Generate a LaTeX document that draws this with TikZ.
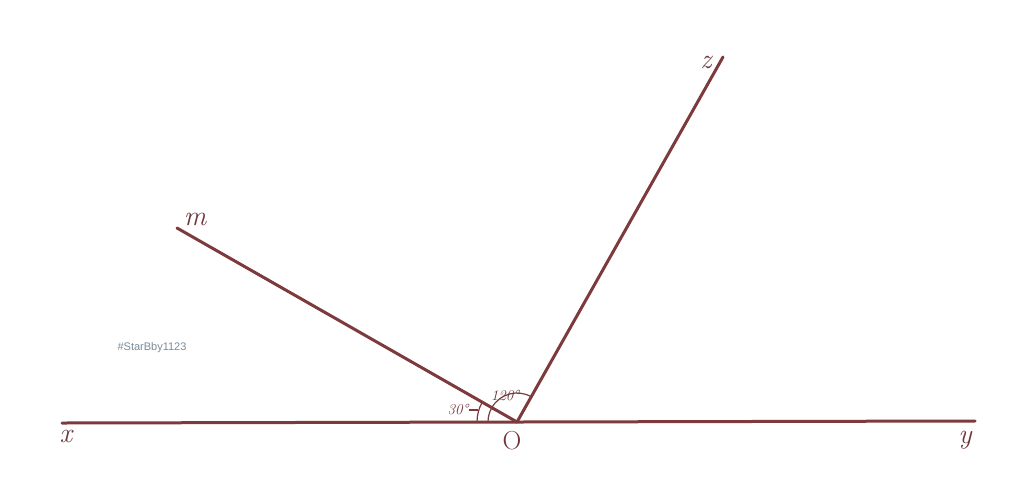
\documentclass[tikz,border=0pt]{standalone}
\usepackage{fontspec}
\setsansfont{Liberation Sans}
\begin{document}
\begin{tikzpicture}[x=1pt,y=-1pt,
  ray/.style={draw=linec,line width=3pt,line cap=round},
  arcl/.style={draw=linec,line width=1.2pt},
  lbl/.style={text=labc,font=\fontsize{28}{28}\selectfont\itshape,inner sep=0pt},
  ang/.style={text=labc,font=\fontsize{15}{15}\selectfont\itshape,inner sep=0pt}]
\definecolor{linec}{RGB}{125,58,60}
\definecolor{labc}{RGB}{110,55,60}
\definecolor{wm}{RGB}{120,140,155}
\useasboundingbox (0,0) rectangle (1024,499);
\coordinate (O) at (517,422);
\coordinate (X) at (62,423);
\coordinate (Y) at (975,421);
\coordinate (M) at (177,228);
\coordinate (Z) at (723,57);
\draw[ray] (X) -- (Y);
\draw[ray] (O) -- (M);
\draw[ray] (O) -- (Z);
\draw[arcl] (O) ++(180:40) arc[start angle=180,end angle=210,radius=40];
\draw[arcl] (O) ++(300:29) arc[start angle=300,end angle=180,radius=29];
\node[lbl] (lx) at (66,436) {x};
\node[lbl] (ly) at (965,440) {y};
\node[lbl] (lm) at (195,219) {m};
\node[lbl] (lz) at (706,62) {z};
\node[text=labc,font=\fontsize{26}{26}\selectfont,inner sep=0pt] (lo) at (512,441) {O};
\node[ang] (a30) at (458,410) {30°};
\node[ang] (a120) at (505,396) {120°};
\draw[arcl] (a30.east) -- ++(9,0);
\node[text=wm,font=\sffamily\fontsize{11}{11}\selectfont,inner sep=0pt] (w) at (152,348) {\#StarBby1123};
\end{tikzpicture}
\end{document}
